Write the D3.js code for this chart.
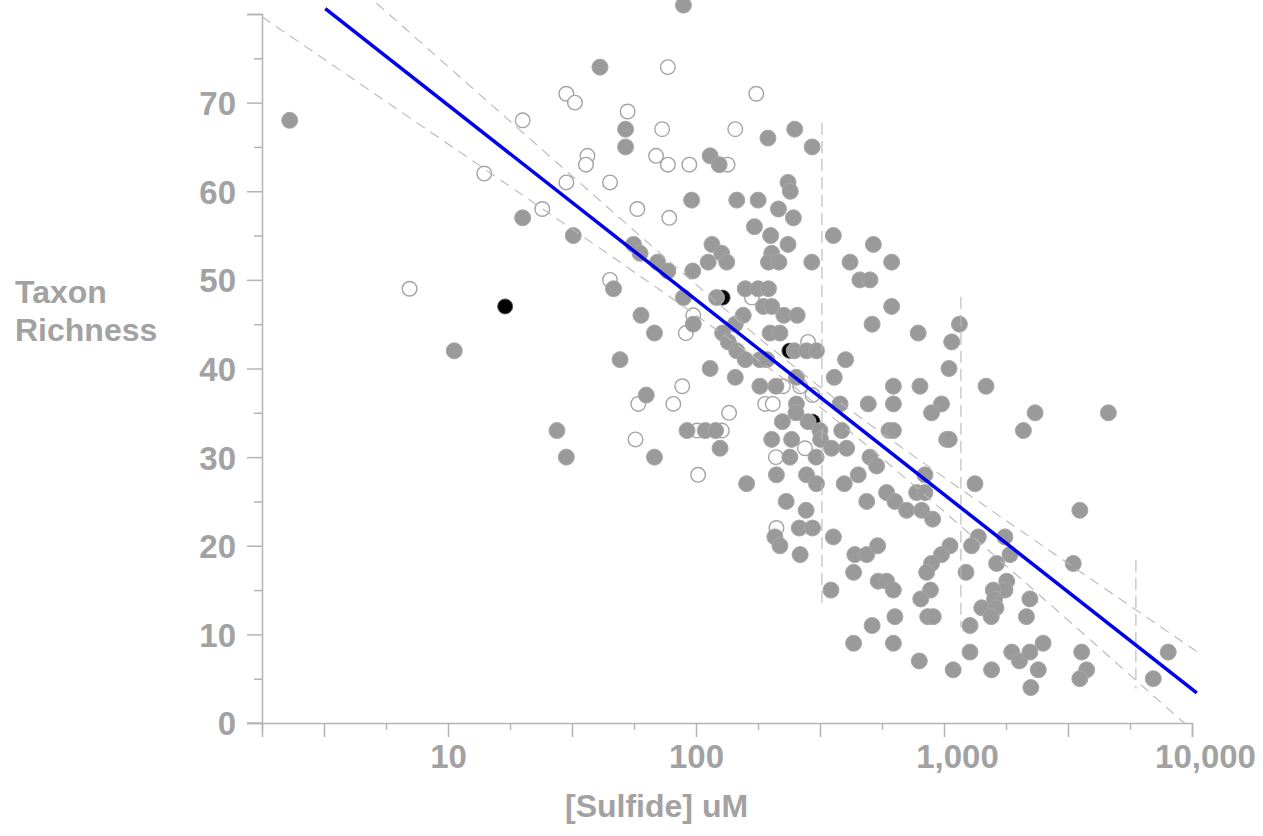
<!DOCTYPE html>
<html>
<head>
<meta charset="utf-8">
<script src="https://cdn.jsdelivr.net/npm/d3@7"></script>
<style>
  html, body { margin: 0; padding: 0; background: #ffffff; }
  svg { display: block; }
  text { font-family: "Liberation Sans", Arial, sans-serif; font-weight: bold; fill: #a2a2a2; }
</style>
</head>
<body>
<svg id="chart" width="1263" height="836"></svg>
<script>
// ---------------- DATA ----------------
const filledX = [2.3,20,32,10.6,27.5,30,
  89,41,52,52,195,250,294,
  114,124,96,146,178,235,240,215,247,172,200,235,56,116,
  358,519,615,418,458,503,615,513,401,293,
  127,133,112,97,202,196,216,59.5,70,77,
  46.5,89,121,158,178,196,187,202,226,256,199,218,60,68,97.5,155,144,128,135,146,158,181,193,249,279,306,49.4,114,
  144,181,210,254,254,253,223,283,316,318,202,243,352,405,239,305,211,279,306,503,535,495,625,625,600,625,381,387,451,396,488,587,634,361,160,231,278,208,218,261,295,263,358,437,488,540,432,543,587,625,350,513,432,625,634,63,92,109,120,125,68,
  787,1154,1074,1047,800,1477,977,891,2330,2090,4600,1025,1050,838,776,838,707,813,900,1333,3530,1375,1292,1760,1846,1057,977,891,851,1227,3320,1630,1790,1762,882,806,1580,1600,1420,1620,1550,2220,2150,860,905,1273,795,1089,1273,1555,1876,2015,2220,2510,2400,2240,3590,3760,3530,8020,6980];
const filledY = [68,57,55,42,33,30,
  81,74,67,65,66,67,65,
  64,63,59,59,59,61,60,58,57,56,55,54,54,54,
  55,54,52,52,50,50,47,45,41,52,
  53,52,52,51,53,52,52,53,52,51,
  49,48,48,49,49,49,47,47,46,46,44,44,46,44,45,46,45,44,43,42,41,41,41,42,42,42,41,40,
  39,38,38,39,36,35,34,34,33,32,32,32,31,31,30,30,28,28,27,30,29,36,38,36,33,33,36,33,28,27,25,26,25,39,27,25,24,21,20,22,22,19,21,19,19,20,17,16,16,15,15,11,9,9,12,37,33,33,33,31,30,
  44,45,43,40,38,38,36,35,35,33,35,32,32,28,26,26,24,24,23,27,24,21,20,21,19,20,19,18,17,17,18,18,16,15,15,14,15,14,13,13,12,14,12,12,12,11,7,6,8,6,8,7,8,9,6,4,8,6,5,8,5];

const openX = [20,30,32.5,14,30,36.5,36,24,7,77,53,73,175,144,69,77,94,134,45,58,78,45,168,97.5,91,283,224,263,295,190,204,275,210,211,58.5,88,81,136,101,127,57,102];
const openY = [68,71,70,62,61,64,63,58,49,74,69,67,71,67,64,63,63,63,61,58,57,50,48,46,44,43,38,38,37,36,36,31,30,22,36,38,36,35,33,33,32,28];

const blackX = [17,128,238,295];
const blackY = [47,48,42,34];

// regression line (log-linear fit) and its dashed bands
const fitX = [3.2, 10450];
const fitY = [80.6, 3.4];
const bandX = [1.78,2,3,5,10,20,50,100,200,300,500,1000,2000,5000,10000,10950];
const bandUpper = [92.67,91.41,87.05,81.54,74.08,66.64,56.83,49.49,42.36,38.41,33.72,27.72,21.86,14.2,8.43,7.67];
const bandLower = [79.69,78.71,75.35,71.1,65.34,59.56,51.89,46.01,39.92,36.15,31.08,23.86,16.5,6.68,-0.77,-1.73];

// vertical dashed range markers
const rangeX = [322, 1170, 5940];
const rangeTop = [67.7, 48.1, 18.4];
const rangeBottom = [13, 10.8, 3.9];

// axes
const xTickValues = d3.range(1, 17).map(k => Math.pow(10, k / 4));
const xLabelValues = [10, 100, 1000, 10000];
const yTickValues = d3.range(0, 81, 5);
const yLabelValues = [0, 10, 20, 30, 40, 50, 60, 70];
const xTitle = "[Sulfide] uM";
const yTitleLines = ["Taxon", "Richness"];

// ---------------- LAYOUT ----------------
(function draw() {
const svg = d3.select("#chart");
const pLeft = 262, pRight = 1192, pTop = 14, pBottom = 723;
const gray = "#a2a2a2", axisColor = "#b4b4b4";

const x = d3.scaleLog().domain([Math.pow(10, 0.25), 10000]).range([pLeft, pRight]);
const y = d3.scaleLinear().domain([0, 80]).range([pBottom, pTop]);

svg.append("defs").append("clipPath").attr("id", "plotclip")
  .append("rect").attr("x", pLeft).attr("y", 0).attr("width", 1263 - pLeft).attr("height", pBottom);

// Y axis
const yAxis = d3.axisLeft(y).tickValues(yTickValues).tickSizeOuter(0).tickSize(15)
  .tickFormat(d => yLabelValues.includes(d) ? d : "");
const gy = svg.append("g").attr("transform", `translate(${pLeft},0)`).call(yAxis);
gy.select(".domain").attr("stroke", axisColor).attr("stroke-width", 1.5);
gy.selectAll(".tick line").attr("stroke", axisColor).attr("stroke-width", 1.5)
  .attr("x2", d => d % 10 === 0 ? -15 : -8);
gy.selectAll(".tick text").attr("x", -26).attr("dy", "0.36em")
  .style("font-size", "33px").style("font-family", '"Liberation Sans", Arial, sans-serif')
  .style("font-weight", "bold").attr("fill", gray);

// X axis
const fmt = d3.format(",");
const xAxis = d3.axisBottom(x).tickValues(xTickValues).tickSizeOuter(0).tickSize(14)
  .tickFormat(d => {
    const r = Math.round(d);
    return xLabelValues.includes(r) && Math.abs(d - r) < 1e-6 ? fmt(r) : "";
  });
const gx = svg.append("g").attr("transform", `translate(0,${pBottom})`).call(xAxis);
gx.select(".domain").attr("stroke", axisColor).attr("stroke-width", 1.5);
gx.selectAll(".tick line").attr("stroke", axisColor).attr("stroke-width", 1.5)
  .attr("y2", (d, i) => (i % 2 === 1) ? 14 : 7);
gx.selectAll(".tick text").attr("y", 22).attr("dy", "0.71em")
  .attr("dx", function() { return this.textContent.includes(",") ? 13 : 0; })
  .style("font-size", "33px").style("font-family", '"Liberation Sans", Arial, sans-serif')
  .style("font-weight", "bold").attr("fill", gray);
svg.append("line").attr("x1", pLeft - 15).attr("x2", pLeft).attr("y1", pBottom).attr("y2", pBottom)
  .attr("stroke", axisColor).attr("stroke-width", 1.5);

// titles
const yt = svg.append("text").attr("x", 15).attr("y", 303).style("font-size", "32px");
yTitleLines.forEach((t, i) => {
  yt.append("tspan").attr("x", 15).attr("y", 303 + i * 38).text(t);
});
svg.append("text").attr("x", 565).attr("y", 817).style("font-size", "32px").text(xTitle);

// points
const pts = svg.append("g");
pts.selectAll("circle.black").data(blackX.map((v, i) => [v, blackY[i]])).join("circle")
  .attr("class", "black").attr("cx", d => x(d[0])).attr("cy", d => y(d[1])).attr("r", 7.5)
  .attr("fill", "#000").attr("stroke", "#555").attr("stroke-width", 1);
pts.selectAll("circle.open").data(openX.map((v, i) => [v, openY[i]])).join("circle")
  .attr("class", "open").attr("cx", d => x(d[0])).attr("cy", d => y(d[1])).attr("r", 7.3)
  .attr("fill", "#fff").attr("stroke", "#a4a4a4").attr("stroke-width", 1.4);
pts.selectAll("circle.filled").data(filledX.map((v, i) => [v, filledY[i]])).join("circle")
  .attr("class", "filled").attr("cx", d => x(d[0])).attr("cy", d => y(d[1])).attr("r", 8)
  .attr("fill", "#9a9a9a").attr("stroke", "#a8a8a8").attr("stroke-width", 1);

// dashed bands
const plot = svg.append("g").attr("clip-path", "url(#plotclip)");
const bandLine = d3.line().x(d => x(d[0])).y(d => y(d[1])).curve(d3.curveMonotoneX);
[bandUpper, bandLower].forEach(arr => {
  plot.append("path").datum(bandX.map((v, i) => [v, arr[i]]))
    .attr("d", bandLine).attr("fill", "none").attr("stroke", "#b8b8b8")
    .attr("stroke-width", 1.1).attr("stroke-dasharray", "10,7");
});
svg.append("g").selectAll("line").data(rangeX.map((v, i) => [v, rangeTop[i], rangeBottom[i]])).join("line")
  .attr("x1", d => x(d[0])).attr("x2", d => x(d[0]))
  .attr("y1", d => y(d[1])).attr("y2", d => y(d[2]))
  .attr("stroke", "#b8b8b8").attr("stroke-width", 1.1).attr("stroke-dasharray", "12,6");

// regression line
svg.append("path").datum(fitX.map((v, i) => [v, fitY[i]]))
  .attr("d", d3.line().x(d => x(d[0])).y(d => y(d[1])))
  .attr("fill", "none").attr("stroke", "#0000e8").attr("stroke-width", 3.5);
})();
</script>
</body>
</html>
